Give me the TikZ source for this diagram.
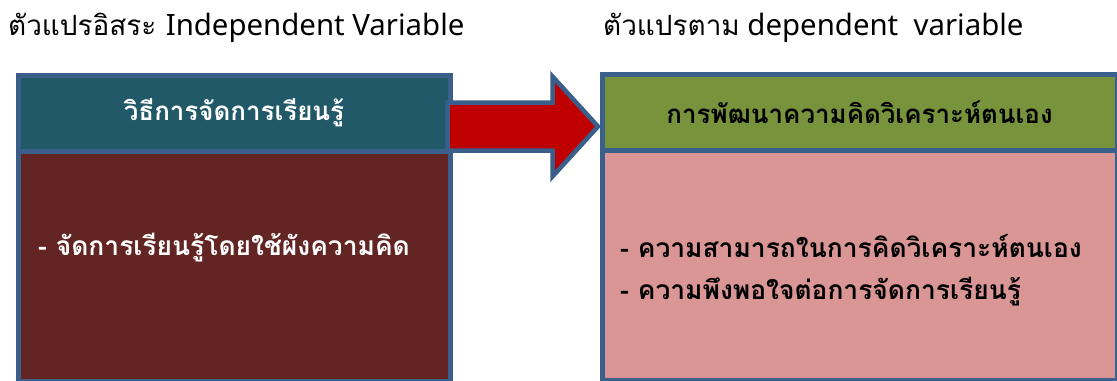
\documentclass[tikz,border=0pt]{standalone}
\usepackage{fontspec}
\setmainfont[Script=Thai]{Loma}
\newfontfamily\latinfont{Noto Sans}
\usetikzlibrary{positioning, calc}

\definecolor{frameblue}{HTML}{3A5F8B}
\definecolor{tealhead}{HTML}{215968}
\definecolor{maroonbody}{HTML}{632523}
\definecolor{olivehead}{HTML}{77933C}
\definecolor{pinkbody}{HTML}{D99694}
\definecolor{arrowred}{HTML}{C00000}

\begin{document}
\begin{tikzpicture}[x=1bp, y=-1bp,
  box/.style={draw=frameblue, line width=5bp, inner sep=0pt, anchor=north west},
  headtext/.style={font=\fontsize{26}{30}\selectfont\bfseries},
  bodytext/.style={font=\fontsize{26.5}{30}\selectfont\bfseries, anchor=west, inner sep=0pt},
  caption/.style={font=\fontsize{28}{32}\selectfont, anchor=west, inner sep=0pt}]
  \useasboundingbox (0,0) rectangle (1117,380);

  % captions
  \node[caption] (lcap) at (8,28) {ตัวแปรอิสระ {\latinfont\fontsize{29.5}{32}\selectfont Independent Variable}};
  \node[caption] (rcap) at (603,28) {ตัวแปรตาม{\latinfont\fontsize{29.5}{32}\selectfont\ dependent\ \ variable}};

  % left box
  \node[box, fill=maroonbody, minimum width=432bp, minimum height=230bp] (lbody) at (15.5,148.5) {};
  \node[box, fill=tealhead, minimum width=432bp, minimum height=76bp, headtext, text=white] (lhead) at (15.5,72.5) {วิธีการจัดการเรียนรู้};
  \node[bodytext, text=white] (lt1) at (38,248) {- จัดการเรียนรู้โดยใช้ผังความคิด};

  % right box
  \node[box, fill=pinkbody, minimum width=515bp, minimum height=230bp] (rbody) at (599.5,148) {};
  \node[box, fill=olivehead, minimum width=515bp, minimum height=76.5bp, headtext] (rhead) at (599.5,71.5) {การพัฒนาความคิดวิเคราะห์ตนเอง};
  \node[bodytext] (rt1) at (620,246) {- ความสามารถในการคิดวิเคราะห์ตนเอง};
  \node[bodytext] (rt2) at (620,292) {- ความพึงพอใจต่อการจัดการเรียนรู้};

  % arrow
  \coordinate (tail) at (447.5,126.5);
  \coordinate (tip) at (598,126.5);
  \draw[frameblue, fill=arrowred, line width=4.5bp, line join=miter]
    ($(tail)+(0,-24)$) -- ($(tip)+(-45.5,-24)$) -- ($(tip)+(-45.5,-50)$)
    -- (tip) -- ($(tip)+(-45.5,50)$) -- ($(tip)+(-45.5,24)$)
    -- ($(tail)+(0,24)$) -- cycle;
\end{tikzpicture}
\end{document}
